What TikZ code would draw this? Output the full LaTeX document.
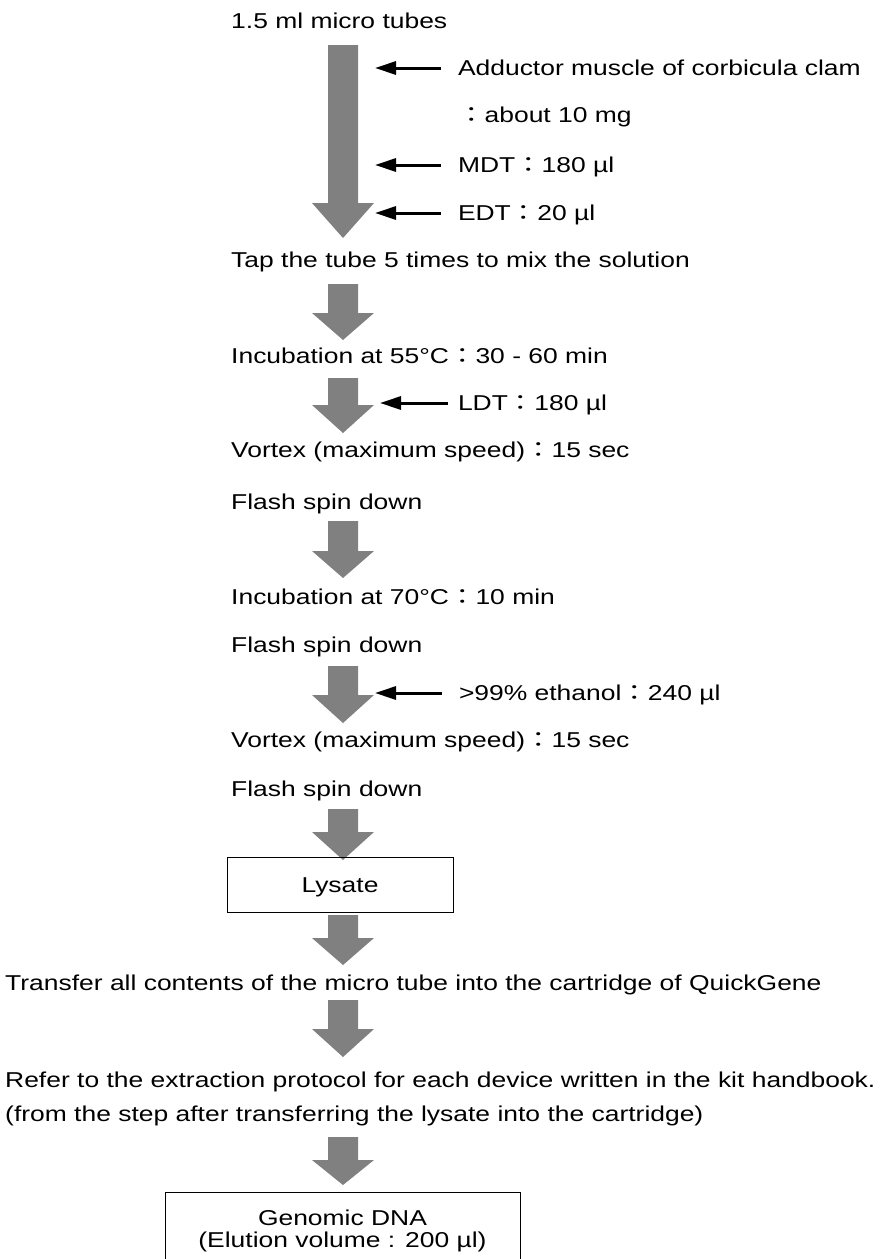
\documentclass[tikz,border=0pt]{standalone}
\usepackage{fontspec}
\setmainfont{Liberation Sans}[FakeStretch=1.23]
\newfontfamily\cjk{Noto Sans CJK JP}[FakeStretch=1.23]
\usepackage{xcolor}
\usepackage{tikz}
\usetikzlibrary{arrows.meta, positioning, calc}

\definecolor{arrowgray}{RGB}{128,128,128}

% full width colon
\newcommand{\fcolon}{{\cjk ：}}

% gray block arrow: top, start of head, tip
\newcommand{\grayarrow}[3]{%
  \fill[arrowgray] (328,#1) -- (358,#1) -- (358,#2) -- (374,#2) -- (343,#3)
    -- (312,#2) -- (328,#2) -- cycle;}

\tikzset{
  steptext/.style={anchor=west, inner sep=0pt, text height=15.4pt, text depth=0pt},
  addlabel/.style={steptext, outer xsep=17pt},
  feed/.style={line width=3pt, -{Triangle[length=21pt,width=13pt]}},
  stepbox/.style={draw, line width=1pt, inner sep=0pt},
}

\begin{document}
\begin{tikzpicture}[x=1pt, y=-1pt, font=\fontsize{21.5pt}{25pt}\selectfont]
  \useasboundingbox (0,0) rectangle (887,1259);
  \clip (0,0) rectangle (887,1259);

  % Gray arrows between the steps
  \grayarrow{45}{203}{238}
  \grayarrow{284}{313}{340}
  \grayarrow{378}{405}{433}
  \grayarrow{521}{551}{578}
  \grayarrow{666}{695}{723}
  \grayarrow{809}{832}{860}
  \grayarrow{915}{938}{965}
  \grayarrow{1000}{1029}{1057}
  \grayarrow{1137}{1160}{1185}

  % Steps
  \node[steptext] (tubes) at (231,21) {1.5 ml micro tubes};
  \node[steptext] (tap) at (231,260) {Tap the tube 5 times to mix the solution};
  \node[steptext] (inc55) at (231,356) {Incubation at 55°C\fcolon 30 - 60 min};
  \node[steptext] (vortexA) at (231,450) {Vortex (maximum speed)\fcolon 15 sec};
  \node[steptext] (flashA) at (231,502) {Flash spin down};
  \node[steptext] (inc70) at (231,597) {Incubation at 70°C\fcolon 10 min};
  \node[steptext] (flashB) at (231,645) {Flash spin down};
  \node[steptext] (vortexB) at (231,740) {Vortex (maximum speed)\fcolon 15 sec};
  \node[steptext] (flashC) at (231,789) {Flash spin down};
  \node[steptext] (transfer) at (5,983) {Transfer all contents of the micro tube into the cartridge of QuickGene};
  \node[steptext] (refer) at (5,1080) {Refer to the extraction protocol for each device written in the kit handbook.};
  \node[steptext] (referB) at (5,1114) {(from the step after transferring the lysate into the cartridge)};

  % Boxes
  \node[stepbox, minimum width=226pt, minimum height=55pt,
        text height=15.4pt, text depth=0pt] (lysate) at (340,885) {Lysate};
  \node[stepbox, minimum width=355pt, minimum height=77pt, anchor=north,
        align=center, font=\fontsize{21.5pt}{22.5pt}\selectfont] (dna) at (342.5,1192)
        {Genomic DNA\\(Elution volume : 200 µl)};

  % Reagents added
  \node[addlabel] (clam) at (441,68) {Adductor muscle of corbicula clam};
  \node[steptext] (clamwt) at (458,115) {\fcolon about 10 mg};
  \node[addlabel] (mdt) at (441,165) {MDT\fcolon 180 µl};
  \node[addlabel] (edt) at (441,213) {EDT\fcolon 20 µl};
  \node[addlabel, outer xsep=10pt] (ldt) at (448,403) {LDT\fcolon 180 µl};
  \node[addlabel] (etoh) at (442,693) {>99\% ethanol\fcolon 240 µl};

  \coordinate (clamin) at (375,68);
  \coordinate (mdtin) at (375,165);
  \coordinate (edtin) at (375,213);
  \coordinate (ldtin) at (380,403);
  \coordinate (etohin) at (375,693);

  \draw[feed] (clam.west) -- (clamin);
  \draw[feed] (mdt.west) -- (mdtin);
  \draw[feed] (edt.west) -- (edtin);
  \draw[feed] (ldt.west) -- (ldtin);
  \draw[feed] (etoh.west) -- (etohin);
\end{tikzpicture}
\end{document}
